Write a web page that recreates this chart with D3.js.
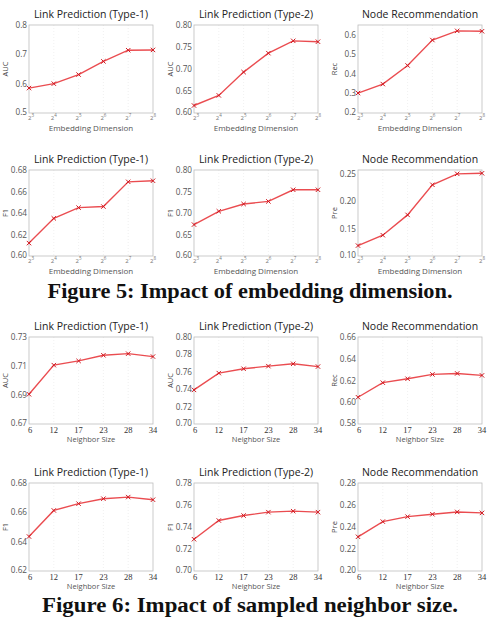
<!DOCTYPE html>
<html>
<head>
<meta charset="utf-8">
<script src="https://cdn.jsdelivr.net/npm/d3@7"></script>
<style>
  body { margin: 0; background: #fff; }
  svg { display: block; }
</style>
</head>
<body>
<script>
// x categories
const embedExp = ["3", "4", "5", "6", "7", "8"]; // 2^3 .. 2^8
const neighborSizes = ["6", "12", "17", "23", "28", "34"];

// figure 5 values (embedding dimension)
const embLp1Auc = [0.585, 0.600, 0.631, 0.676, 0.714, 0.715];
const embLp2Auc = [0.617, 0.640, 0.693, 0.736, 0.764, 0.762];
const embNrRec = [0.302, 0.348, 0.443, 0.573, 0.620, 0.618];
const embLp1F1 = [0.612, 0.635, 0.645, 0.646, 0.669, 0.670];
const embLp2F1 = [0.673, 0.704, 0.721, 0.727, 0.754, 0.754];
const embNrPre = [0.119, 0.138, 0.175, 0.230, 0.250, 0.251];

// figure 6 values (neighbor size)
const nbLp1Auc = [0.6905, 0.7106, 0.7135, 0.7174, 0.7185, 0.7165];
const nbLp2Auc = [0.7392, 0.7585, 0.7635, 0.7665, 0.7692, 0.7660];
const nbNrRec = [0.6046, 0.6180, 0.6216, 0.6256, 0.6265, 0.6247];
const nbLp1F1 = [0.6435, 0.6613, 0.6659, 0.6693, 0.6704, 0.6686];
const nbLp2F1 = [0.7289, 0.7459, 0.7504, 0.7535, 0.7544, 0.7535];
const nbNrPre = [0.2311, 0.2449, 0.2494, 0.2516, 0.2537, 0.2528];

const titles = ["Link Prediction (Type-1)", "Link Prediction (Type-2)", "Node Recommendation"];
const captions = ["Figure 5: Impact of embedding dimension.", "Figure 6: Impact of sampled neighbor size."];

// panels: values, y label, y domain, y ticks
const panels = [
  { v: embLp1Auc, yl: "AUC", dom: [0.5, 0.8], ticks: [0.5, 0.6, 0.7, 0.8], fmt: ".1f", kind: "emb" },
  { v: embLp2Auc, yl: "AUC", dom: [0.6, 0.8], ticks: [0.6, 0.65, 0.7, 0.75, 0.8], fmt: ".2f", kind: "emb" },
  { v: embNrRec, yl: "Rec", dom: [0.2, 0.65], ticks: [0.2, 0.3, 0.4, 0.5, 0.6], fmt: ".1f", kind: "emb" },
  { v: embLp1F1, yl: "F1", dom: [0.6, 0.68], ticks: [0.6, 0.62, 0.64, 0.66, 0.68], fmt: ".2f", kind: "emb" },
  { v: embLp2F1, yl: "F1", dom: [0.6, 0.8], ticks: [0.6, 0.65, 0.7, 0.75, 0.8], fmt: ".2f", kind: "emb" },
  { v: embNrPre, yl: "Pre", dom: [0.1, 0.257], ticks: [0.1, 0.15, 0.2, 0.25], fmt: ".2f", kind: "emb" },
  { v: nbLp1Auc, yl: "AUC", dom: [0.67, 0.73], ticks: [0.67, 0.69, 0.71, 0.73], fmt: ".2f", kind: "nb" },
  { v: nbLp2Auc, yl: "AUC", dom: [0.7, 0.8], ticks: [0.7, 0.72, 0.74, 0.76, 0.78, 0.8], fmt: ".2f", kind: "nb" },
  { v: nbNrRec, yl: "Rec", dom: [0.58, 0.66], ticks: [0.58, 0.6, 0.62, 0.64, 0.66], fmt: ".2f", kind: "nb" },
  { v: nbLp1F1, yl: "F1", dom: [0.62, 0.68], ticks: [0.62, 0.64, 0.66, 0.68], fmt: ".2f", kind: "nb" },
  { v: nbLp2F1, yl: "F1", dom: [0.7, 0.78], ticks: [0.7, 0.72, 0.74, 0.76, 0.78], fmt: ".2f", kind: "nb" },
  { v: nbNrPre, yl: "Pre", dom: [0.2, 0.28], ticks: [0.2, 0.22, 0.24, 0.26, 0.28], fmt: ".2f", kind: "nb" },
];

// layout of the 4 rows x 3 columns
const colLeft = [29, 194, 358];
const plotW = 124;
const rowTop = [25, 170, 337, 483];
const rowBottom = [113, 256, 424, 571];

const width = 500, height = 624;
const lineColor = "#e8383d";
const sans = "'Open Sans', 'DejaVu Sans', sans-serif";

const svg = d3.select("body").append("svg")
  .attr("width", width)
  .attr("height", height);

panels.forEach((p, i) => {
  const row = Math.floor(i / 3), col = i % 3;
  const x0 = colLeft[col], x1 = x0 + plotW;
  const y0 = rowTop[row], y1 = rowBottom[row];

  const cats = p.kind === "emb" ? embedExp : neighborSizes;
  const x = d3.scalePoint().domain(cats).range([x0, x1]).padding(0);
  const y = d3.scaleLinear().domain(p.dom).range([y1, y0]);

  const g = svg.append("g");

  // faint vertical grid
  g.selectAll("line.grid")
    .data(cats.slice(1, -1))
    .join("line")
    .attr("x1", (d) => x(d)).attr("x2", (d) => x(d))
    .attr("y1", y0).attr("y2", y1)
    .attr("stroke", "#e6e6e6")
    .attr("stroke-width", 0.6)
    .attr("stroke-dasharray", "1,2");

  // frame
  g.append("rect")
    .attr("x", x0).attr("y", y0)
    .attr("width", plotW).attr("height", y1 - y0)
    .attr("fill", "none")
    .attr("stroke", "#bdbdbd")
    .attr("stroke-width", 0.8);

  // y ticks (bottom one nudged up a little so it clears the first x label)
  const fmt = d3.format(p.fmt);
  g.selectAll("text.yt")
    .data(p.ticks)
    .join("text")
    .attr("x", x0 - 2)
    .attr("y", (d, j) => y(d) + (j === 0 ? 1.5 : 3))
    .attr("text-anchor", "end")
    .attr("font-family", sans)
    .attr("font-size", 8.2)
    .attr("fill", "#555")
    .text((d) => fmt(d));

  // x tick labels
  if (p.kind === "emb") {
    const t = g.selectAll("text.xt")
      .data(cats)
      .join("text")
      .attr("x", (d, j) => x(d) + (j === 0 ? 2 : 0))
      .attr("y", y1 + 6.5)
      .attr("text-anchor", "middle")
      .attr("font-family", sans)
      .attr("font-size", 6)
      .attr("fill", "#777");
    t.append("tspan").text("2");
    t.append("tspan").attr("dy", -2.5).attr("font-size", 4.5).text((d) => d);
  } else {
    g.selectAll("text.xt")
      .data(cats)
      .join("text")
      .attr("x", (d, j) => x(d) + (j === 0 ? 1 : 0))
      .attr("y", y1 + 8.5)
      .attr("text-anchor", "middle")
      .attr("font-family", "'Liberation Serif', serif")
      .attr("font-size", 8.5)
      .attr("fill", "#333")
      .text((d) => d);
  }

  // x axis label
  g.append("text")
    .attr("x", (x0 + x1) / 2)
    .attr("y", p.kind === "emb" ? y1 + 18 : y1 + 17.5)
    .attr("text-anchor", "middle")
    .attr("font-family", sans)
    .attr("font-size", p.kind === "emb" ? 8 : 7.5)
    .attr("fill", "#555")
    .text(p.kind === "emb" ? "Embedding Dimension" : "Neighbor Size");

  // y axis label
  g.append("text")
    .attr("transform", `translate(${x0 - 21},${(y0 + y1) / 2}) rotate(-90)`)
    .attr("text-anchor", "middle")
    .attr("font-family", sans)
    .attr("font-size", 7.5)
    .attr("fill", "#444")
    .text(p.yl);

  // title
  g.append("text")
    .attr("x", (x0 + x1) / 2)
    .attr("y", y0 - 7)
    .attr("text-anchor", "middle")
    .attr("font-family", sans)
    .attr("font-size", 10.5)
    .attr("fill", "#222")
    .text(titles[col]);

  // series line
  const line = d3.line()
    .x((d, j) => x(cats[j]))
    .y((d) => y(d));
  g.append("path")
    .datum(p.v)
    .attr("d", line)
    .attr("fill", "none")
    .attr("stroke", lineColor)
    .attr("stroke-width", 1.4)
    .attr("opacity", 0.9);

  // x markers
  const m = 2.2;
  const mk = g.selectAll("g.mk")
    .data(p.v)
    .join("g")
    .attr("transform", (d, j) => `translate(${x(cats[j])},${y(d)})`);
  mk.append("path")
    .attr("d", `M${-m},${-m}L${m},${m}M${-m},${m}L${m},${-m}`)
    .attr("stroke", "#d01820")
    .attr("stroke-width", 1);
});

// figure captions
const capY = [298, 612];
const capLen = [405, 416];
svg.selectAll("text.cap")
  .data(captions)
  .join("text")
  .attr("x", 250)
  .attr("y", (d, i) => capY[i])
  .attr("text-anchor", "middle")
  .attr("font-family", "'Liberation Serif', 'DejaVu Serif', serif")
  .attr("font-weight", "bold")
  .attr("font-size", 20)
  .attr("textLength", (d, i) => capLen[i])
  .attr("lengthAdjust", "spacingAndGlyphs")
  .attr("fill", "#111")
  .text((d) => d);
</script>
</body>
</html>
